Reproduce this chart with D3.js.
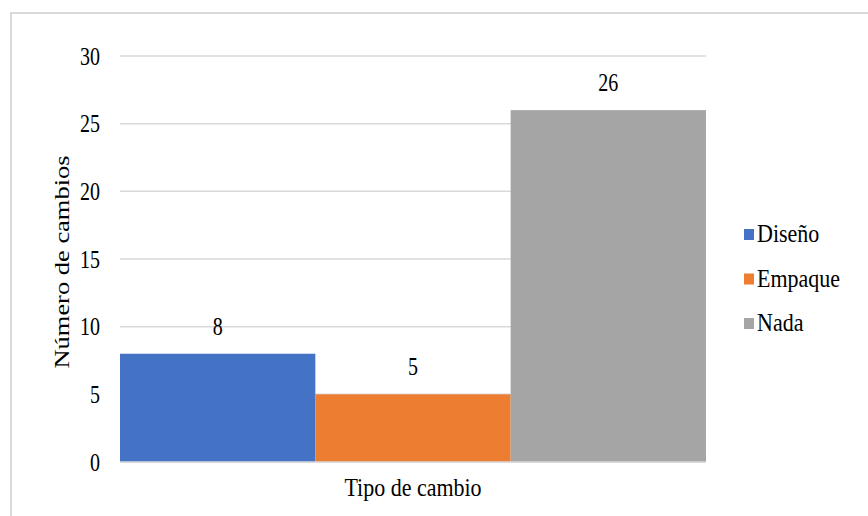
<!DOCTYPE html>
<html>
<head>
<meta charset="utf-8">
<script src="https://cdn.jsdelivr.net/npm/d3@7"></script>
<style>
  body { margin: 0; background: #fff; }
  svg text { font-family: 'Liberation Serif', 'Times New Roman', serif; fill: #000; }
</style>
</head>
<body>
<div id="chart"></div>
<script>
const categories = ["Diseño", "Empaque", "Nada"];
const values = [8, 5, 26];
const colors = ["#4472c4", "#ed7d31", "#a5a5a5"];
const yTicks = [0, 5, 10, 15, 20, 25, 30];

const width = 868, height = 516;
const margin = { top: 56, bottom: 54, left: 120, right: 162 };
const stretch = 1.18; // the source picture is a bit taller than wide

const svg = d3.select("#chart").append("svg")
  .attr("width", width)
  .attr("height", height);

// chart border (only top & left visible in the frame)
svg.append("rect")
  .attr("x", 11).attr("y", 13)
  .attr("width", 900).attr("height", 600)
  .attr("fill", "none")
  .attr("stroke", "#d9d9d9")
  .attr("stroke-width", 2);

const x = d3.scaleBand()
  .domain(categories)
  .range([margin.left, width - margin.right])
  .padding(0);

const y = d3.scaleLinear()
  .domain([0, 30])
  .range([height - margin.bottom, margin.top]);

// gridlines
svg.append("g")
  .selectAll("line")
  .data(yTicks)
  .join("line")
    .attr("x1", margin.left)
    .attr("x2", width - margin.right)
    .attr("y1", d => y(d))
    .attr("y2", d => y(d))
    .attr("stroke", "#d9d9d9")
    .attr("stroke-width", 1.5);

// y axis labels
const yAxis = g => g
  .attr("transform", `translate(${margin.left},0)`)
  .call(d3.axisLeft(y).tickValues(yTicks).tickSize(0).tickPadding(20))
  .attr("font-family", null)
  .call(g => g.select(".domain").remove())
  .call(g => g.selectAll("text")
    .attr("font-size", "20px")
    .attr("transform", "scale(1,1.25)")
    .attr("fill", "#000"));
svg.append("g").call(yAxis);

// bars
svg.append("g")
  .selectAll("rect")
  .data(categories)
  .join("rect")
    .attr("x", d => x(d))
    .attr("y", (d, i) => y(values[i]))
    .attr("width", x.bandwidth())
    .attr("height", (d, i) => y(0) - y(values[i]))
    .attr("fill", (d, i) => colors[i]);

// baseline
svg.append("line")
  .attr("x1", margin.left).attr("x2", width - margin.right)
  .attr("y1", y(0)).attr("y2", y(0))
  .attr("stroke", "#d9d9d9").attr("stroke-width", 1.5);

// value labels
svg.append("g")
  .selectAll("text")
  .data(categories)
  .join("text")
    .attr("transform", (d, i) =>
      `translate(${x(d) + x.bandwidth() / 2},${y(values[i]) - 19}) scale(1,1.25)`)
    .attr("text-anchor", "middle")
    .attr("font-size", "20px")
    .text((d, i) => values[i]);

// axis titles
svg.append("text")
  .attr("transform", `translate(${(margin.left + width - margin.right) / 2},496) scale(1,${stretch})`)
  .attr("text-anchor", "middle")
  .attr("font-size", "22px")
  .text("Tipo de cambio");

svg.append("text")
  .attr("transform", `translate(69,${(y(0) + y(30)) / 2 + 3}) rotate(-90) scale(${stretch * 1.02},1)`)
  .attr("text-anchor", "middle")
  .attr("font-size", "22px")
  .text("Número de cambios");

// legend
const legend = svg.append("g")
  .selectAll("g")
  .data(categories)
  .join("g")
    .attr("transform", (d, i) => `translate(744,${234 + i * 44.5})`);

legend.append("rect")
  .attr("x", 0).attr("y", -5)
  .attr("width", 10).attr("height", 11)
  .attr("fill", (d, i) => colors[i]);

legend.append("text")
  .attr("transform", `translate(13,8) scale(1,${stretch})`)
  .attr("font-size", "22px")
  .text(d => d);
</script>
</body>
</html>
